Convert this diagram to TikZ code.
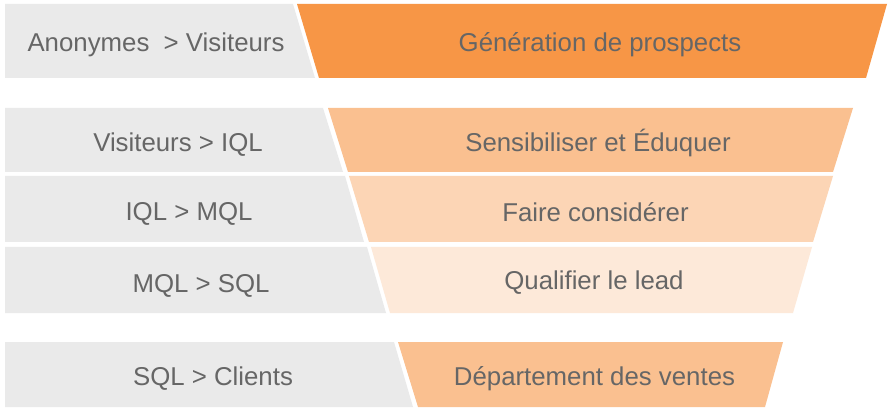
\documentclass[tikz,border=0pt]{standalone}
\usepackage{fontspec}
\setmainfont{Liberation Sans}
\definecolor{grayband}{HTML}{EAEAEA}
\definecolor{orA}{HTML}{F79646}
\definecolor{orB}{HTML}{FAC090}
\definecolor{orC}{HTML}{FCD5B5}
\definecolor{orD}{HTML}{FDE9D9}
\definecolor{txt}{HTML}{666666}
\begin{document}
\begin{tikzpicture}[x=1pt,y=-1pt,
  lbl/.style={text=txt,font=\fontsize{25.8}{30}\selectfont,inner sep=0pt,anchor=base}]
\useasboundingbox[fill=white] (0,0) rectangle (893,411);
% row 1
\fill[grayband] (5,4) -- (293,4) -- (315,78) -- (5,78) -- cycle;
\fill[orA] (297,4) -- (887,4) -- (866,78) -- (319,78) -- cycle;
% row 2
\fill[grayband] (5,108) -- (323,108) -- (343,172) -- (5,172) -- cycle;
\fill[orB] (328,108) -- (853,108) -- (833,172) -- (348,172) -- cycle;
% row 3
\fill[grayband] (5,176) -- (345,176) -- (364,242) -- (5,242) -- cycle;
\fill[orC] (349,176) -- (833,176) -- (813,242) -- (369,242) -- cycle;
% row 4
\fill[grayband] (5,247) -- (367,247) -- (386,313) -- (5,313) -- cycle;
\fill[orD] (371,247) -- (812,247) -- (793,313) -- (390,313) -- cycle;
% row 5
\fill[grayband] (5,342) -- (394,342) -- (413,407) -- (5,407) -- cycle;
\fill[orB] (398,342) -- (783,342) -- (765,407) -- (418,407) -- cycle;
% texts
\node[lbl] (l1) at (156,51.5) {Anonymes\ \ > Visiteurs};
\node[lbl] (r1) at (600,51.5) {Génération de prospects};
\node[lbl] (l2) at (178,152) {Visiteurs > IQL};
\node[lbl] (r2) at (598,152) {Sensibiliser et Éduquer};
\node[lbl] (l3) at (189,221) {IQL > MQL};
\node[lbl] (r3) at (595.5,221.5) {Faire considérer};
\node[lbl] (l4) at (201,292) {MQL > SQL};
\node[lbl] (r4) at (594,290) {Qualifier le lead};
\node[lbl] (l5) at (213,385) {SQL > Clients};
\node[lbl] (r5) at (594.5,385) {Département des ventes};
\end{tikzpicture}
\end{document}
